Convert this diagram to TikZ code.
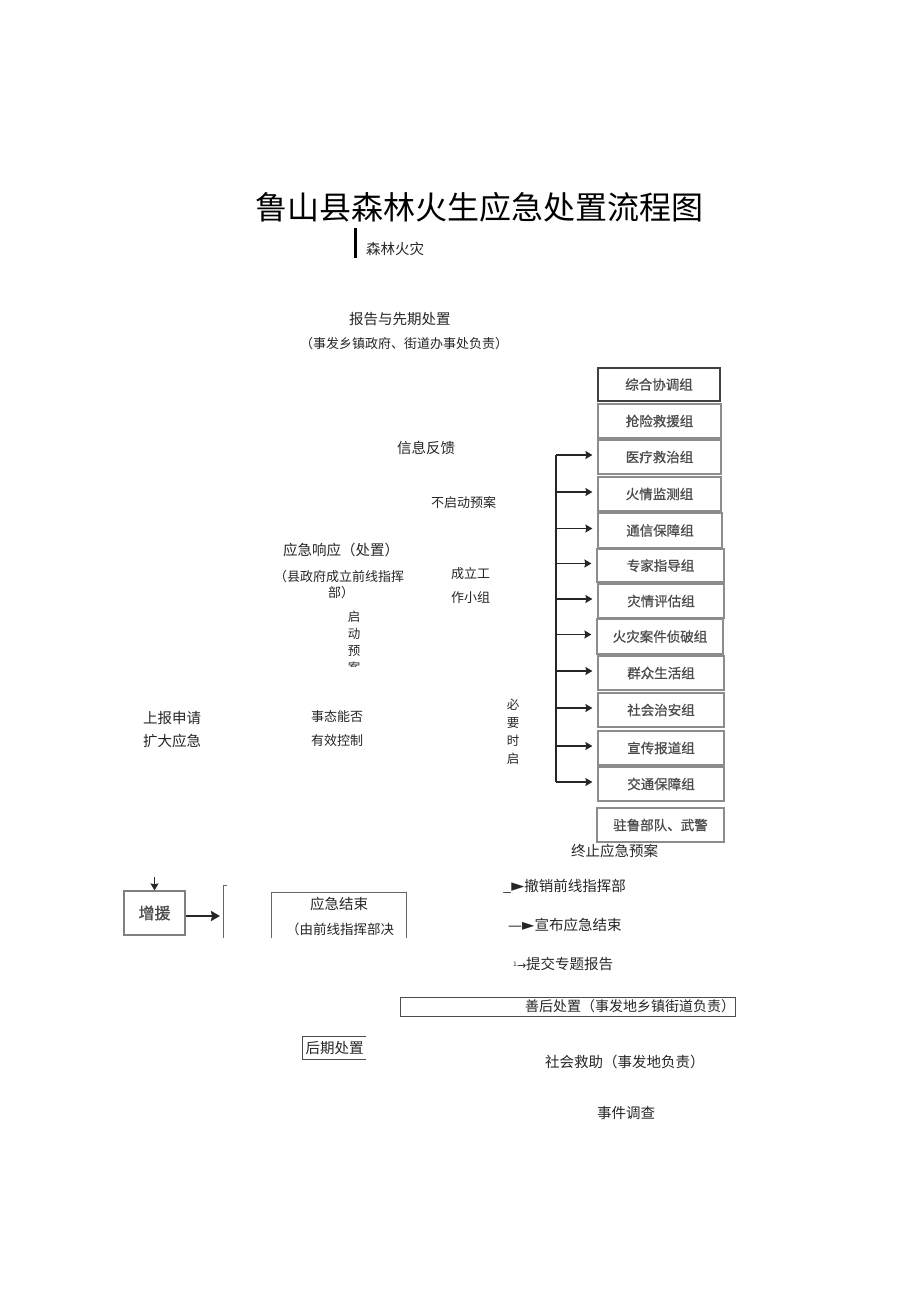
\documentclass[tikz,border=0pt]{standalone}
\usepackage{fontspec}
\setmainfont{Noto Sans CJK SC}
\newfontfamily\dvfont{DejaVu Sans}
\newfontfamily\boxfont[FakeBold=0.8]{Noto Sans CJK SC}
\usetikzlibrary{arrows.meta}
\newcommand{\fsz}[1]{\fontsize{#1}{#1}\selectfont}
\tikzset{
  t/.style={inner sep=0pt, anchor=west, text=black!85},
  grp/.style={draw=black!45, line width=1.2pt, inner sep=0pt, text=black!70, font=\boxfont\fsz{13.5}},
  arr/.style={-{Stealth[length=7pt,width=8pt,inset=1pt]}, line width=1.5pt, draw=black!85},
  bus/.style={line width=1.6pt, draw=black!85},
  gline/.style={line width=1pt, draw=black!60},
}
\begin{document}
\begin{tikzpicture}[x=1pt,y=-1pt]
\useasboundingbox[fill=white] (0,0) rectangle (920,1301);

% title
\node[t, text=black, font=\fsz{32}] (title) at (255,207) {鲁山县森林火生应急处置流程图};
\draw[line width=3pt] (355,228) -- (355,258);
\node[t, font=\fsz{14.5}] (fire) at (366,249) {森林火灾};

% upper texts
\node[t, font=\fsz{14.5}] (report) at (349,319) {报告与先期处置};
\node[t, font=\fsz{13}] (reportsub) at (300,344) {（事发乡镇政府、街道办事处负责）};
\node[t, font=\fsz{14.5}] (feedback) at (397,448) {信息反馈};
\node[t, font=\fsz{13}] (noplan) at (431,503) {不启动预案};
\node[t, font=\fsz{14.5}] (resp) at (283,550) {应急响应（处置）};
\node[t, font=\fsz{13}] (resp1) at (274,577) {（县政府成立前线指挥};
\node[t, font=\fsz{13}] (resp2) at (328,593) {部）};
\node[t, font=\fsz{13}] (team1) at (451,574) {成立工};
\node[t, font=\fsz{13}] (team2) at (451,598) {作小组};
\begin{scope}
  \clip (330,600) rectangle (380,666.5);
  \node[inner sep=0pt, anchor=north, align=center, text=black!85, font=\fontsize{12.5}{17}\selectfont] (startplan) at (354,611) {启\\动\\预\\案};
\end{scope}
\node[t, font=\fsz{14.5}] (up1) at (143,718) {上报申请};
\node[t, font=\fsz{14.5}] (up2) at (143,741) {扩大应急};
\node[t, font=\fsz{13}] (ctl1) at (311,717) {事态能否};
\node[t, font=\fsz{13}] (ctl2) at (311,741) {有效控制};
\node[inner sep=0pt, anchor=north, align=center, text=black!85, font=\fontsize{12.5}{18}\selectfont] (need) at (513,699) {必\\要\\时\\启};

% right column of groups
\node[grp, draw=black!75, minimum width=122pt, minimum height=33pt] (b1) at (659,384.5) {综合协调组};
\node[grp, minimum width=123pt, minimum height=34pt] (b2) at (659.5,421) {抢险救援组};
\node[grp, minimum width=123pt, minimum height=34pt] (b3) at (659.5,457) {医疗救治组};
\node[grp, minimum width=123pt, minimum height=34pt] (b4) at (659.5,494) {火情监测组};
\node[grp, minimum width=124pt, minimum height=35pt] (b5) at (660,530.5) {通信保障组};
\node[grp, minimum width=127pt, minimum height=33pt] (b6) at (660.5,565.5) {专家指导组};
\node[grp, minimum width=126pt, minimum height=34pt] (b7) at (661,601) {灾情评估组};
\node[grp, minimum width=126pt, minimum height=35pt] (b8) at (660,636.5) {火灾案件侦破组};
\node[grp, minimum width=126pt, minimum height=34pt] (b9) at (661,673) {群众生活组};
\node[grp, minimum width=126pt, minimum height=34pt] (b10) at (661,710) {社会治安组};
\node[grp, minimum width=126pt, minimum height=34pt] (b11) at (661,748) {宣传报道组};
\node[grp, minimum width=126pt, minimum height=34pt] (b12) at (661,784) {交通保障组};
\node[grp, minimum width=127pt, minimum height=34pt] (b13) at (660.5,825) {驻鲁部队、武警};

\coordinate (busx) at (556,0);
\foreach \i in {3,...,12} {
  \path (b\i.west) ++(0,-2) coordinate (a\i);
  \draw[arr] (a\i -| busx) -- ([xshift=-5pt]a\i);
}
\draw[bus] (a3 -| busx) -- (a12 -| busx);

% lower right texts
\node[t, font=\fsz{14.5}] (stop) at (571,851) {终止应急预案};
\node[t, font=\fsz{14.5}] (s1) at (503,886) {\_{\dvfont\fsz{17}►}撤销前线指挥部};
\node[t, font=\fsz{14.5}] (s2) at (508,925) {{\dvfont\fsz{14}—}{\dvfont\fsz{16}►}宣布应急结束};
\node[t, font=\fsz{14.5}] (s3) at (513,964) {{\dvfont\fsz{11}\raisebox{3pt}{\fsz{6}1}→}提交专题报告};

% 增援
\node[grp, draw=black!50, minimum width=61pt, minimum height=44pt, font=\boxfont\fsz{16}, text=black!70] (zy) at (154.5,913) {增援};
\coordinate (zin) at (154.5,877);
\draw[-{Stealth[length=7pt,width=8pt,inset=1pt]}, line width=1.5pt, draw=black!85] (zin) -- (zy.north);
\coordinate (brt) at (227,885);
\coordinate (brb) at (223,938);
\draw[gline] (brt) -- (brt -| brb) -- (brb);
\path ([yshift=-3pt]zy.east) coordinate (ze);
\draw[-{Stealth[length=9pt,width=10pt,inset=1pt]}, line width=2pt, draw=black!85, shorten >=3pt] (ze) -- (ze -| brb);

% 应急结束
\node[inner sep=0pt, minimum width=134pt, minimum height=45pt] (yj) at (339,915.5) {};
\draw[gline] (yj.south west) -- (yj.north west) -- (yj.north east) -- (yj.south east);
\node[t, font=\fsz{14.5}] (yj1) at (310,904) {应急结束};
\node[t, font=\fsz{13.5}] (yj2) at (286,929) {（由前线指挥部决};

% 善后处置
\node[draw=black!70, line width=1pt, inner sep=0pt, minimum width=335pt, minimum height=19pt, text width=335pt, align=right, text=black!85, font=\fsz{14}] (sh) at (567.5,1006.5) {善后处置（事发地乡镇街道负责）};

% 后期处置
\node[inner sep=0pt, minimum width=63pt, minimum height=22pt, text=black!85, font=\fsz{14.5}] (hq) at (334.5,1048) {后期处置};
\draw[line width=1pt, draw=black!70] (hq.north east) -- (hq.north west) -- (hq.south west) -- (hq.south east);

\node[t, font=\fsz{14.5}] (help) at (545,1062) {社会救助（事发地负责）};
\node[t, font=\fsz{14.5}] (inv) at (597,1113) {事件调查};
\end{tikzpicture}
\end{document}
